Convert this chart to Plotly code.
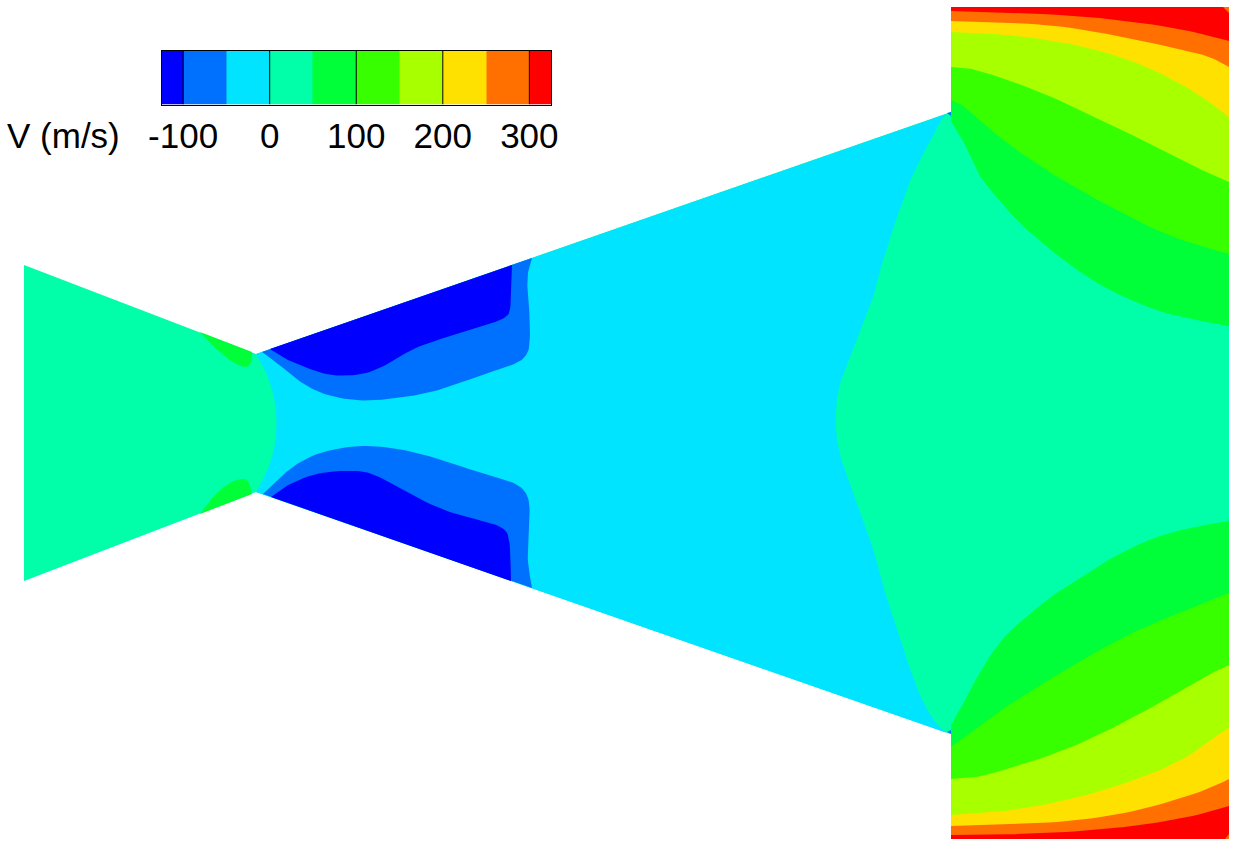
import plotly.graph_objects as go

# ---- scale ----
LEVELS = [-125, -100, -50, 0, 50, 100, 150, 200, 250, 300, 325]
COLORS = ["#0000ff", "#0070ff", "#00e4ff", "#00ffa8", "#00ff38",
          "#38ff00", "#a8ff00", "#ffe100", "#ff7000", "#ff0000"]
TICKS = [-100, 0, 100, 200, 300]
TICK_LABELS = ["-100", "0", "100", "200", "300"]
TITLE = "V (m/s)"

# ---- geometry outline of the domain ----
DOMAIN_X = [24, 256, 951, 951, 1229, 1229, 951, 951, 256, 24]
DOMAIN_Y = [265, 354, 112, 7, 7, 839, 839, 734, 492, 581]

# ---- 0 m/s contours bounding the diffuser ----
ZERO_LEFT_X = [256, 267, 275, 277, 275, 268, 256]
ZERO_LEFT_Y = [354, 373, 400, 423, 447, 470, 492]
ZERO_RIGHT_X = [947, 935, 920, 907, 895, 883, 875, 865, 853, 843, 837, 835, 838, 847, 860, 872, 878, 887, 897, 910, 920, 942, 949]
ZERO_RIGHT_Y = [733, 723, 697, 660, 623, 587, 553, 527, 493, 467, 443, 420, 387, 367, 330, 303, 277, 247, 217, 180, 160, 117, 113]

# ---- negative velocity cells ----
BLUE_TOP_X = [532, 528, 527, 530, 530, 525, 513, 487, 463, 433, 400, 367, 343, 320, 300, 280, 262]
BLUE_TOP_Y = [258, 270, 287, 317, 347, 358, 365, 373, 382, 392, 398, 401, 399, 393, 382, 365, 352]
DARK_TOP_X = [512, 511, 507, 480, 447, 413, 387, 363, 330, 307, 287, 270]
DARK_TOP_Y = [265, 308, 318, 327, 337, 348, 365, 375, 376, 368, 360, 349]
BLUE_BOT_X = [263, 277, 297, 323, 360, 397, 433, 463, 487, 513, 525, 530, 529, 527, 532]
BLUE_BOT_Y = [494, 480, 463, 451, 445, 448, 457, 467, 475, 482, 490, 503, 530, 560, 588]
DARK_BOT_X = [271, 290, 320, 357, 377, 407, 447, 480, 503, 510, 511]
DARK_BOT_Y = [497, 483, 472, 470, 475, 493, 512, 520, 527, 537, 581]

# ---- throat cells 50..100 ----
THROAT_TOP_X = [252, 252, 247, 237, 223, 210, 200]
THROAT_TOP_Y = [352, 362, 368, 365, 355, 343, 332]
THROAT_BOT_X = [200, 210, 223, 235, 248, 252]
THROAT_BOT_Y = [514, 500, 487, 480, 478, 494]

# ---- outlet contours, upper half (x, y) ----
U50_X = [951, 963, 970, 980, 993, 1010, 1027, 1053, 1077, 1103, 1137, 1170, 1229]
U50_Y = [121, 140, 157, 177, 193, 213, 230, 252, 270, 287, 303, 315, 326]
U100_X = [951, 963, 987, 1020, 1070, 1120, 1170, 1229]
U100_Y = [100, 105, 127, 153, 185, 212, 237, 254]
U150_X = [951, 970, 1003, 1053, 1093, 1137, 1180, 1229]
U150_Y = [67, 68, 78, 97, 117, 137, 160, 182]
U200_X = [951, 987, 1037, 1087, 1137, 1180, 1207, 1229]
U200_Y = [32, 33, 38, 47, 62, 83, 100, 117]
U250_X = [951, 997, 1053, 1103, 1153, 1197, 1213, 1229]
U250_Y = [21, 22, 25, 33, 43, 53, 58, 67]
U300_X = [951, 997, 1070, 1137, 1187, 1229]
U300_Y = [11, 12, 15, 22, 30, 41]

# ---- outlet contours, lower half ----
L50_X = [951, 960, 970, 987, 1003, 1020, 1037, 1053, 1070, 1087, 1120, 1153, 1187, 1229]
L50_Y = [725, 710, 690, 660, 638, 622, 608, 595, 585, 573, 553, 538, 528, 521]
L100_X = [951, 970, 997, 1037, 1087, 1137, 1187, 1229]
L100_Y = [747, 733, 713, 687, 657, 630, 610, 593]
L150_X = [951, 970, 987, 1053, 1103, 1153, 1203, 1229]
L150_Y = [779, 778, 775, 755, 733, 707, 677, 665]
L200_X = [951, 1003, 1070, 1137, 1187, 1210, 1229]
L200_Y = [815, 812, 800, 780, 758, 740, 728]
L250_X = [951, 987, 1053, 1120, 1187, 1217, 1229]
L250_Y = [826, 825, 823, 815, 797, 785, 779]
L300_X = [951, 987, 1053, 1120, 1187, 1229]
L300_Y = [835, 835, 833, 828, 818, 806]

# ---- small corner cells ----
TIP_TOP_X = [947, 951, 951]
TIP_TOP_Y = [113, 112, 116]
TIP_BOT_X = [947, 951, 951]
TIP_BOT_Y = [732, 730, 734]
CORNER_TOP_X = [1223, 1229, 1229]
CORNER_TOP_Y = [7, 7, 13]
CORNER_BOT_X = [1225, 1229, 1229]
CORNER_BOT_Y = [839, 839, 834]

TOP_EDGE = 7
BOTTOM_EDGE = 839
LEFT_EDGE = 951
RIGHT_EDGE = 1229

fig = go.Figure()


def rounded(x, y, passes=3):
    """Round a contour polyline, keeping its two end points on the walls."""
    pts = list(zip(x, y))
    for _ in range(passes):
        out = [pts[0]]
        for (ax, ay), (bx, by) in zip(pts[:-1], pts[1:]):
            out.append((0.75 * ax + 0.25 * bx, 0.75 * ay + 0.25 * by))
            out.append((0.25 * ax + 0.75 * bx, 0.25 * ay + 0.75 * by))
        out.append(pts[-1])
        pts = out
    return [p[0] for p in pts], [p[1] for p in pts]


def cell(x, y, color):
    fig.add_trace(go.Scatter(x=x, y=y, mode="lines", fill="toself", fillcolor=color,
                             line=dict(width=0, color=color), hoverinfo="skip",
                             showlegend=False, xaxis="x", yaxis="y"))


def curved_cell(x, y, color):
    cell(*rounded(x, y), color)


BLUE, MID, CYAN, TEAL, GREEN, LEAF, LIME, YELLOW, ORANGE, RED = COLORS

cell(DOMAIN_X, DOMAIN_Y, TEAL)
lx, ly = rounded(ZERO_LEFT_X, ZERO_LEFT_Y)
rx, ry = rounded(ZERO_RIGHT_X, ZERO_RIGHT_Y)
cell(lx + rx, ly + ry, CYAN)
curved_cell(BLUE_TOP_X, BLUE_TOP_Y, MID)
curved_cell(DARK_TOP_X, DARK_TOP_Y, BLUE)
curved_cell(BLUE_BOT_X, BLUE_BOT_Y, MID)
curved_cell(DARK_BOT_X, DARK_BOT_Y, BLUE)
curved_cell(THROAT_TOP_X, THROAT_TOP_Y, GREEN)
curved_cell(THROAT_BOT_X, THROAT_BOT_Y, GREEN)

for (cx, cy), c in zip([(U50_X, U50_Y), (U100_X, U100_Y), (U150_X, U150_Y),
                        (U200_X, U200_Y), (U250_X, U250_Y), (U300_X, U300_Y)],
                       [GREEN, LEAF, LIME, YELLOW, ORANGE, RED]):
    sx, sy = rounded(cx, cy)
    cell(sx + [RIGHT_EDGE, LEFT_EDGE], sy + [TOP_EDGE, TOP_EDGE], c)
for (cx, cy), c in zip([(L50_X, L50_Y), (L100_X, L100_Y), (L150_X, L150_Y),
                        (L200_X, L200_Y), (L250_X, L250_Y), (L300_X, L300_Y)],
                       [GREEN, LEAF, LIME, YELLOW, ORANGE, RED]):
    sx, sy = rounded(cx, cy)
    cell(sx + [RIGHT_EDGE, LEFT_EDGE], sy + [BOTTOM_EDGE, BOTTOM_EDGE], c)

cell(TIP_TOP_X, TIP_TOP_Y, MID)
cell(TIP_BOT_X, TIP_BOT_Y, MID)
cell(CORNER_TOP_X, CORNER_TOP_Y, ORANGE)
cell(CORNER_BOT_X, CORNER_BOT_Y, ORANGE)

# colour bar, drawn on its own value axis
n = len(COLORS)
scale = []
for i, c in enumerate(COLORS):
    scale += [[i / n, c], [(i + 1) / n, c]]
fig.add_trace(go.Heatmap(x=LEVELS, y=[0, 1], z=[[i + 0.5 for i in range(n)]], zmin=0, zmax=n,
                         colorscale=scale, showscale=False, hoverinfo="skip",
                         xaxis="x2", yaxis="y2"))
for t in TICKS:
    fig.add_shape(type="line", xref="x2", yref="y2", x0=t, x1=t, y0=0, y1=1,
                  line=dict(color="black", width=1))

W, H = 1241, 848
FONT = dict(family="Liberation Sans, Arial, sans-serif", size=35, color="black")
hidden = dict(visible=False, showgrid=False, zeroline=False, automargin=False)
fig.update_layout(
    width=W, height=H, margin=dict(l=0, r=0, t=0, b=0),
    paper_bgcolor="white", plot_bgcolor="white", showlegend=False,
    xaxis=dict(range=[0, W], domain=[0, 1], **hidden),
    yaxis=dict(range=[H, 0], domain=[0, 1], **hidden),
    xaxis2=dict(domain=[161.5 / W, 551 / W], range=[LEVELS[0], LEVELS[-1]], anchor="y2", automargin=False,
                tickmode="array", tickvals=TICKS, ticktext=TICK_LABELS, tickfont=FONT,
                ticks="", showgrid=False, zeroline=False,
                showline=True, mirror=True, linecolor="black", linewidth=1),
    yaxis2=dict(domain=[1 - 104.5 / H, 1 - 50.5 / H], range=[0, 1], anchor="x2", automargin=False,
                showticklabels=False, ticks="", showgrid=False, zeroline=False,
                showline=True, mirror=True, linecolor="black", linewidth=1),
    annotations=[dict(text=TITLE, xref="x", yref="y", x=5, y=135, xanchor="left", yanchor="middle",
                      showarrow=False, font=FONT)],
)

fig.write_html("out.html", config=dict(displayModeBar=False),
               post_script="document.body.style.margin='0';document.body.style.overflow='hidden';")
